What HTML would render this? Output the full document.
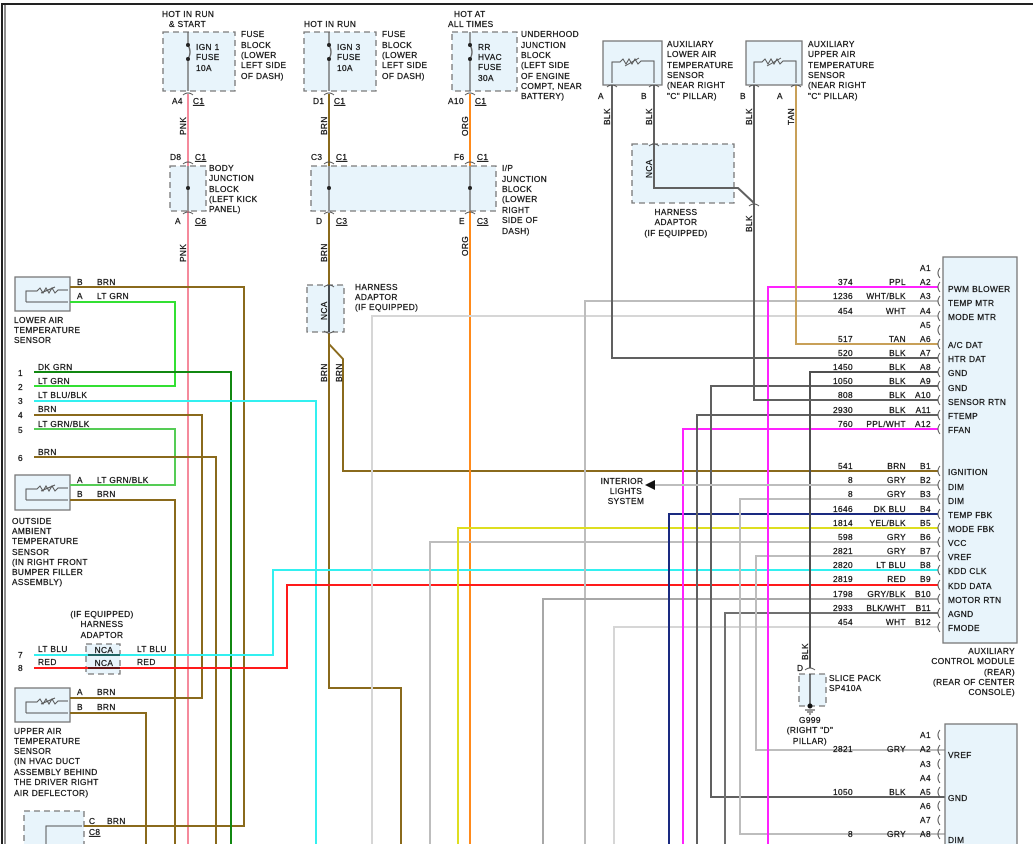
<!DOCTYPE html>
<html><head><meta charset="utf-8"><style>
html,body{margin:0;padding:0;background:#fff;}
svg{display:block;}
text{font-family:"Liberation Sans",sans-serif;font-size:8.3px;fill:#111;stroke:#111;stroke-width:0.25px;letter-spacing:0.4px;}
.r{text-anchor:end}
.m{text-anchor:middle}
.w{fill:none;stroke-width:2;stroke-linejoin:miter}
.box{fill:#e8f4fb;stroke:#777;stroke-width:1.3}
.dbox{fill:#e8f4fb;stroke:#777;stroke-width:1.3;stroke-dasharray:6,4}
.cn{fill:none;stroke:#555;stroke-width:1}
</style></head><body>
<svg width="1033" height="844" viewBox="0 0 1033 844" xmlns="http://www.w3.org/2000/svg">
<rect x="0" y="0" width="1033" height="844" fill="#fff"/>
<line x1="2" y1="3" x2="2" y2="844" stroke="#222" stroke-width="2"/>
<line x1="5" y1="3" x2="5" y2="844" stroke="#222" stroke-width="1"/>
<line x1="2" y1="4" x2="1033" y2="4" stroke="#222" stroke-width="2"/>

<rect class="dbox" x="163" y="32" width="72" height="59"/>
<rect class="dbox" x="304" y="32" width="72" height="59"/>
<rect class="dbox" x="452" y="32" width="65" height="59"/>
<g stroke="#666" stroke-width="1.3" fill="none">
<path d="M188 32V45 M188 59V91 M188 45q4 7 0 14"/>
<path d="M329 32V45 M329 59V91 M329 45q4 7 0 14"/>
<path d="M470 32V45 M470 59V91 M470 45q4 7 0 14"/>
</g>
<g fill="#222"><circle cx="188" cy="45" r="2"/><circle cx="188" cy="59" r="2"/><circle cx="329" cy="45" r="2"/><circle cx="329" cy="59" r="2"/><circle cx="470" cy="45" r="2"/><circle cx="470" cy="59" r="2"/></g>
<text x="162" y="17">HOT IN RUN</text><text x="169" y="27">&amp; START</text>
<text x="196" y="50">IGN 1</text><text x="196" y="60">FUSE</text><text x="196" y="71">10A</text>
<text x="241" y="37">FUSE</text><text x="241" y="48">BLOCK</text><text x="241" y="58">(LOWER</text><text x="241" y="68">LEFT SIDE</text><text x="241" y="79">OF DASH)</text>
<text x="304" y="27">HOT IN RUN</text>
<text x="337" y="50">IGN 3</text><text x="337" y="60">FUSE</text><text x="337" y="71">10A</text>
<text x="382" y="37">FUSE</text><text x="382" y="48">BLOCK</text><text x="382" y="58">(LOWER</text><text x="382" y="68">LEFT SIDE</text><text x="382" y="79">OF DASH)</text>
<text x="454" y="17">HOT AT</text><text x="448" y="27">ALL TIMES</text>
<text x="478" y="50">RR</text><text x="478" y="60">HVAC</text><text x="478" y="70">FUSE</text><text x="478" y="81">30A</text>
<text x="521" y="37">UNDERHOOD</text><text x="521" y="48">JUNCTION</text><text x="521" y="58">BLOCK</text><text x="521" y="68">(LEFT SIDE</text><text x="521" y="79">OF ENGINE</text><text x="521" y="89">COMPT, NEAR</text><text x="521" y="99">BATTERY)</text>

<text x="172" y="104">A4</text><text x="193" y="104" text-decoration="underline">C1</text>
<text x="313" y="104">D1</text><text x="334" y="104" text-decoration="underline">C1</text>
<text x="448" y="104">A10</text><text x="475" y="104" text-decoration="underline">C1</text>

<rect class="dbox" x="170" y="166" width="36" height="45"/>
<rect class="dbox" x="311" y="166" width="185" height="45"/>
<g stroke="#666" stroke-width="1.3"><path d="M188 166V211 M329 166V211 M470 166V211"/></g>
<g fill="#222"><circle cx="188" cy="188" r="2"/><circle cx="329" cy="188" r="2"/><circle cx="470" cy="188" r="2"/></g>
<text x="170" y="160">D8</text><text x="195" y="160" text-decoration="underline">C1</text>
<text x="311" y="160">C3</text><text x="336" y="160" text-decoration="underline">C1</text>
<text x="454" y="160">F6</text><text x="477" y="160" text-decoration="underline">C1</text>
<text x="209" y="171">BODY</text><text x="209" y="181">JUNCTION</text><text x="209" y="192">BLOCK</text><text x="209" y="202">(LEFT KICK</text><text x="209" y="212">PANEL)</text>
<text x="502" y="171">I/P</text><text x="502" y="182">JUNCTION</text><text x="502" y="192">BLOCK</text><text x="502" y="202">(LOWER</text><text x="502" y="213">RIGHT</text><text x="502" y="223">SIDE OF</text><text x="502" y="234">DASH)</text>
<text x="175" y="224">A</text><text x="195" y="224" text-decoration="underline">C6</text>
<text x="316" y="224">D</text><text x="336" y="224" text-decoration="underline">C3</text>
<text x="459" y="224">E</text><text x="477" y="224" text-decoration="underline">C3</text>

<rect class="dbox" x="307" y="285" width="37" height="47"/>
<line x1="329" y1="285" x2="329" y2="332" stroke="#111" stroke-width="1.5"/>
<text x="355" y="290">HARNESS</text><text x="355" y="300">ADAPTOR</text><text x="355" y="310">(IF EQUIPPED)</text>

<rect class="box" x="603" y="41" width="59" height="44"/>
<rect class="box" x="746" y="41" width="56" height="44"/>
<g class="cn" stroke-width="1"><path d="M612 83V62H620l3-3 3 5 3-5 3 5 3-5 3 5 3-3H654V83"/><path d="M625 66l14-8"/>
<path d="M754 83V62H762l3-3 3 5 3-5 3 5 3-5 3 5 3-3H796V83"/><path d="M767 66l14-8"/></g>
<text x="667" y="47">AUXILIARY</text><text x="667" y="57">LOWER AIR</text><text x="667" y="68">TEMPERATURE</text><text x="667" y="78">SENSOR</text><text x="667" y="88">(NEAR RIGHT</text><text x="667" y="99">"C" PILLAR)</text>
<text x="808" y="47">AUXILIARY</text><text x="808" y="57">UPPER AIR</text><text x="808" y="68">TEMPERATURE</text><text x="808" y="78">SENSOR</text><text x="808" y="88">(NEAR RIGHT</text><text x="808" y="99">"C" PILLAR)</text>
<text x="598" y="99">A</text><text x="641" y="99">B</text><text x="740" y="99">B</text><text x="777" y="99">A</text>
<rect class="dbox" x="632" y="144" width="102" height="59"/>
<text x="676" y="215" class="m">HARNESS</text><text x="676" y="225" class="m">ADAPTOR</text><text x="676" y="236" class="m">(IF EQUIPPED)</text>

<rect class="box" x="15" y="277" width="55" height="34"/>
<rect class="box" x="15" y="475" width="55" height="35"/>
<rect class="box" x="15" y="688" width="55" height="34"/>
<rect class="dbox" x="24" y="811" width="60" height="40"/>
<g class="cn"><path d="M26 302V291H37l3-3 3 5 3-5 3 5 3-5 3 5 3-3H68"/><path d="M26 302H68"/><path d="M41 293l14-6"/>
<path d="M26 500V489H37l3-3 3 5 3-5 3 5 3-5 3 5 3-3H68"/><path d="M26 500H68"/><path d="M41 491l14-6"/>
<path d="M26 713V702H37l3-3 3 5 3-5 3 5 3-5 3 5 3-3H68"/><path d="M26 713H68"/><path d="M41 704l14-6"/>
<path d="M46 844V826H82"/></g>
<text x="14" y="323">LOWER AIR</text><text x="14" y="333">TEMPERATURE</text><text x="14" y="343">SENSOR</text>
<text x="12" y="524">OUTSIDE</text><text x="12" y="534">AMBIENT</text><text x="12" y="544">TEMPERATURE</text><text x="12" y="555">SENSOR</text><text x="12" y="565">(IN RIGHT FRONT</text><text x="12" y="575">BUMPER FILLER</text><text x="12" y="585">ASSEMBLY)</text>
<text x="14" y="734">UPPER AIR</text><text x="14" y="744">TEMPERATURE</text><text x="14" y="754">SENSOR</text><text x="14" y="764">(IN HVAC DUCT</text><text x="14" y="775">ASSEMBLY BEHIND</text><text x="14" y="785">THE DRIVER RIGHT</text><text x="14" y="796">AIR DEFLECTOR)</text>
<text x="102" y="617" class="m">(IF EQUIPPED)</text><text x="102" y="627" class="m">HARNESS</text><text x="102" y="638" class="m">ADAPTOR</text>
<rect class="dbox" x="86" y="644" width="34" height="30"/>

<g class="w">
<path stroke="#f58a9c" d="M188 94V166 M188 211V844"/>
<path stroke="#8a6a1c" d="M329 94V166 M329 213V285 M329 333V688H401V844 M329 344L343 359V471H938"/>
<path stroke="#ff8a1a" d="M470 94V166 M470 211V844"/>
<path stroke="#8a6a1c" d="M70 287H244V826H84"/>
<path stroke="#33e033" d="M70 302H175V386H34"/>
<path stroke="#118811" d="M34 372H231V844"/>
<path stroke="#33f0f0" d="M34 401H316V844"/>
<path stroke="#8a6a1c" d="M34 415H202V698H70"/>
<path stroke="#55cc55" d="M34 429H175V485H70"/>
<path stroke="#8a6a1c" d="M34 457H216V844"/>
<path stroke="#8a6a1c" d="M70 500H175V844"/>
<path stroke="#8a6a1c" d="M70 713H146V844"/>
<path stroke="#33f0f0" d="M34 655H273V570H938"/>
<path stroke="#ff1a1a" d="M34 668H287V585H938"/>
<path stroke="#d6d6d6" d="M372 844V316H938"/>
<path stroke="#bdbdbd" d="M585 844V301H938"/>
<path stroke="#bdbdbd" d="M430 844V542H938"/>
<path stroke="#dede20" d="M458 844V528H938"/>
<path stroke="#a8a8a8" d="M543 844V599H938"/>
<path stroke="#d6d6d6" d="M614 844V627H938"/>
<path stroke="#1a2a80" d="M669 844V514H938"/>
<path stroke="#ff22ff" d="M683 844V429H938"/>
<path stroke="#606060" d="M697 844V415H938"/>
<path stroke="#606060" d="M945 797H711V386H938"/>
<path stroke="#707070" d="M725 844V613H938"/>
<path stroke="#bdbdbd" d="M938 499H740V834H945"/>
<path stroke="#bdbdbd" d="M938 556H756V750H945"/>
<path stroke="#ff22ff" d="M768 844V287H938"/>
<path stroke="#c8a058" d="M796 85V344H938"/>
<path stroke="#606060" d="M612 85V358H938"/>
<path stroke="#505050" d="M938 372H810V668"/>
<path stroke="#606060" d="M938 400H754V85"/>
<path stroke="#606060" d="M654 85V188H738L754 203"/>
<path stroke="#bdbdbd" d="M938 485H655"/>
</g>
<polygon points="645,485 655,480 655,490" fill="#111"/>
<line x1="88" y1="655" x2="120" y2="655" stroke="#111" stroke-width="1.3"/>
<line x1="88" y1="668" x2="120" y2="668" stroke="#111" stroke-width="1.3"/>
<text x="104" y="653" class="m">NCA</text><text x="104" y="666" class="m">NCA</text>
<text x="38" y="652">LT BLU</text><text x="38" y="665">RED</text><text x="137" y="652">LT BLU</text><text x="137" y="665">RED</text>
<text x="18" y="658">7</text><text x="18" y="671">8</text>

<text x="77" y="285">B</text><text x="97" y="285">BRN</text>
<text x="77" y="299">A</text><text x="97" y="299">LT GRN</text>
<text x="18" y="376">1</text><text x="38" y="370">DK GRN</text>
<text x="18" y="390">2</text><text x="38" y="384">LT GRN</text>
<text x="18" y="404">3</text><text x="38" y="398">LT BLU/BLK</text>
<text x="18" y="418">4</text><text x="38" y="412">BRN</text>
<text x="18" y="433">5</text><text x="38" y="427">LT GRN/BLK</text>
<text x="18" y="461">6</text><text x="38" y="455">BRN</text>
<text x="77" y="483">A</text><text x="97" y="483">LT GRN/BLK</text>
<text x="77" y="497">B</text><text x="97" y="497">BRN</text>
<text x="77" y="695">A</text><text x="97" y="695">BRN</text>
<text x="77" y="710">B</text><text x="97" y="710">BRN</text>
<text x="89" y="824">C</text><text x="107" y="824">BRN</text>
<text x="89" y="835" text-decoration="underline">C8</text>

<g>
<text transform="translate(186,135) rotate(-90)">PNK</text>
<text transform="translate(186,262) rotate(-90)">PNK</text>
<text transform="translate(327,135) rotate(-90)">BRN</text>
<text transform="translate(327,262) rotate(-90)">BRN</text>
<text transform="translate(468,136) rotate(-90)">ORG</text>
<text transform="translate(468,256) rotate(-90)">ORG</text>
<text transform="translate(327,320) rotate(-90)">NCA</text>
<text transform="translate(327,382) rotate(-90)">BRN</text>
<text transform="translate(342,382) rotate(-90)">BRN</text>
<text transform="translate(610,125) rotate(-90)">BLK</text>
<text transform="translate(652,125) rotate(-90)">BLK</text>
<text transform="translate(752,125) rotate(-90)">BLK</text>
<text transform="translate(794,125) rotate(-90)">TAN</text>
<text transform="translate(652,178) rotate(-90)">NCA</text>
<text transform="translate(752,232) rotate(-90)">BLK</text>
<text transform="translate(808,660) rotate(-90)">BLK</text>
</g>

<g class="cn">
<path d="M183 95q5-4 10 0 M324 95q5-4 10 0 M465 95q5-4 10 0"/>
<path d="M183 164q5-4 10 0 M324 164q5-4 10 0 M465 164q5-4 10 0"/>
<path d="M183 214q5-4 10 0 M324 214q5-4 10 0 M465 214q5-4 10 0"/>
<path d="M324 287q5-4 10 0 M324 331q5 4 10 0"/>
<path d="M607 87q5-4 10 0 M649 87q5-4 10 0 M749 87q5-4 10 0 M791 87q5-4 10 0"/>
<path d="M649 146q5-4 10 0 M749 206q5-4 10 0"/>
<path d="M805 670q5-4 10 0"/>
</g>

<rect class="box" x="943" y="257" width="74" height="386"/>
<g class="cn">
<path d="M940 268q-4 5 0 10 M940 282q-4 5 0 10 M940 296q-4 5 0 10 M940 311q-4 5 0 10 M940 325q-4 5 0 10 M940 339q-4 5 0 10 M940 353q-4 5 0 10 M940 367q-4 5 0 10 M940 381q-4 5 0 10 M940 395q-4 5 0 10 M940 410q-4 5 0 10 M940 424q-4 5 0 10"/>
<path d="M940 466q-4 5 0 10 M940 480q-4 5 0 10 M940 494q-4 5 0 10 M940 509q-4 5 0 10 M940 523q-4 5 0 10 M940 537q-4 5 0 10 M940 551q-4 5 0 10 M940 565q-4 5 0 10 M940 580q-4 5 0 10 M940 594q-4 5 0 10 M940 608q-4 5 0 10 M940 622q-4 5 0 10"/>
<path d="M940 730q-4 5 0 10 M940 745q-4 5 0 10 M940 759q-4 5 0 10 M940 773q-4 5 0 10 M940 787q-4 5 0 10 M940 801q-4 5 0 10 M940 815q-4 5 0 10 M940 829q-4 5 0 10"/>
</g>
<g>
<text x="931" y="271" class="r">A1</text>
<text x="853" y="285" class="r">374</text><text x="906" y="285" class="r">PPL</text><text x="931" y="285" class="r">A2</text><text x="948" y="292">PWM BLOWER</text>
<text x="853" y="299" class="r">1236</text><text x="906" y="299" class="r">WHT/BLK</text><text x="931" y="299" class="r">A3</text><text x="948" y="306">TEMP MTR</text>
<text x="853" y="314" class="r">454</text><text x="906" y="314" class="r">WHT</text><text x="931" y="314" class="r">A4</text><text x="948" y="320">MODE MTR</text>
<text x="931" y="328" class="r">A5</text>
<text x="853" y="342" class="r">517</text><text x="906" y="342" class="r">TAN</text><text x="931" y="342" class="r">A6</text><text x="948" y="348">A/C DAT</text>
<text x="853" y="356" class="r">520</text><text x="906" y="356" class="r">BLK</text><text x="931" y="356" class="r">A7</text><text x="948" y="362">HTR DAT</text>
<text x="853" y="370" class="r">1450</text><text x="906" y="370" class="r">BLK</text><text x="931" y="370" class="r">A8</text><text x="948" y="376">GND</text>
<text x="853" y="384" class="r">1050</text><text x="906" y="384" class="r">BLK</text><text x="931" y="384" class="r">A9</text><text x="948" y="391">GND</text>
<text x="853" y="398" class="r">808</text><text x="906" y="398" class="r">BLK</text><text x="931" y="398" class="r">A10</text><text x="948" y="405">SENSOR RTN</text>
<text x="853" y="413" class="r">2930</text><text x="906" y="413" class="r">BLK</text><text x="931" y="413" class="r">A11</text><text x="948" y="419">FTEMP</text>
<text x="853" y="427" class="r">760</text><text x="906" y="427" class="r">PPL/WHT</text><text x="931" y="427" class="r">A12</text><text x="948" y="433">FFAN</text>
<text x="853" y="469" class="r">541</text><text x="906" y="469" class="r">BRN</text><text x="931" y="469" class="r">B1</text><text x="948" y="475">IGNITION</text>
<text x="853" y="483" class="r">8</text><text x="906" y="483" class="r">GRY</text><text x="931" y="483" class="r">B2</text><text x="948" y="490">DIM</text>
<text x="853" y="497" class="r">8</text><text x="906" y="497" class="r">GRY</text><text x="931" y="497" class="r">B3</text><text x="948" y="504">DIM</text>
<text x="853" y="512" class="r">1646</text><text x="906" y="512" class="r">DK BLU</text><text x="931" y="512" class="r">B4</text><text x="948" y="518">TEMP FBK</text>
<text x="853" y="526" class="r">1814</text><text x="906" y="526" class="r">YEL/BLK</text><text x="931" y="526" class="r">B5</text><text x="948" y="532">MODE FBK</text>
<text x="853" y="540" class="r">598</text><text x="906" y="540" class="r">GRY</text><text x="931" y="540" class="r">B6</text><text x="948" y="546">VCC</text>
<text x="853" y="554" class="r">2821</text><text x="906" y="554" class="r">GRY</text><text x="931" y="554" class="r">B7</text><text x="948" y="560">VREF</text>
<text x="853" y="568" class="r">2820</text><text x="906" y="568" class="r">LT BLU</text><text x="931" y="568" class="r">B8</text><text x="948" y="574">KDD CLK</text>
<text x="853" y="582" class="r">2819</text><text x="906" y="582" class="r">RED</text><text x="931" y="582" class="r">B9</text><text x="948" y="589">KDD DATA</text>
<text x="853" y="597" class="r">1798</text><text x="906" y="597" class="r">GRY/BLK</text><text x="931" y="597" class="r">B10</text><text x="948" y="603">MOTOR RTN</text>
<text x="853" y="611" class="r">2933</text><text x="906" y="611" class="r">BLK/WHT</text><text x="931" y="611" class="r">B11</text><text x="948" y="617">AGND</text>
<text x="853" y="625" class="r">454</text><text x="906" y="625" class="r">WHT</text><text x="931" y="625" class="r">B12</text><text x="948" y="631">FMODE</text>
</g>
<text x="1015" y="654" class="r">AUXILIARY</text><text x="1015" y="664" class="r">CONTROL MODULE</text><text x="1015" y="675" class="r">(REAR)</text><text x="1015" y="685" class="r">(REAR OF CENTER</text><text x="1015" y="695" class="r">CONSOLE)</text>
<text x="622" y="484" class="m">INTERIOR</text><text x="626" y="494" class="m">LIGHTS</text><text x="626" y="504" class="m">SYSTEM</text>

<rect class="dbox" x="799" y="674" width="27" height="32"/>
<line x1="810" y1="674" x2="810" y2="706" stroke="#333" stroke-width="1.3"/>
<circle cx="810" cy="706" r="2.5" fill="#111"/>
<g stroke="#333" stroke-width="1"><path d="M805 710h10 M807 712h6 M809 714h2"/></g>
<text x="797" y="671">D</text>
<text x="829" y="681">SLICE PACK</text><text x="829" y="691">SP410A</text>
<text x="810" y="723" class="m">G999</text><text x="810" y="733" class="m">(RIGHT "D"</text><text x="810" y="744" class="m">PILLAR)</text>

<rect class="box" x="945" y="724" width="72" height="130"/>
<text x="931" y="738" class="r">A1</text>
<text x="853" y="752" class="r">2821</text><text x="906" y="752" class="r">GRY</text><text x="931" y="752" class="r">A2</text><text x="948" y="758">VREF</text>
<text x="931" y="767" class="r">A3</text><text x="931" y="781" class="r">A4</text>
<text x="853" y="795" class="r">1050</text><text x="906" y="795" class="r">BLK</text><text x="931" y="795" class="r">A5</text><text x="948" y="801">GND</text>
<text x="931" y="809" class="r">A6</text><text x="931" y="823" class="r">A7</text>
<text x="853" y="837" class="r">8</text><text x="906" y="837" class="r">GRY</text><text x="931" y="837" class="r">A8</text><text x="948" y="843">DIM</text>
</svg>
</body></html>
